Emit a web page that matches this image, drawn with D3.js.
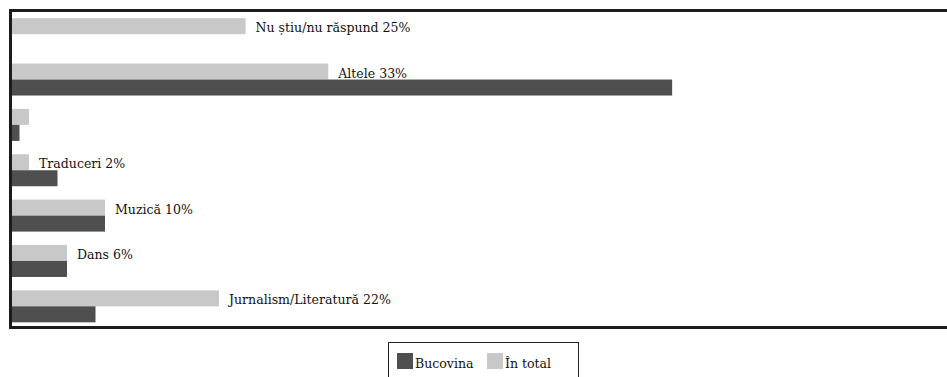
<!DOCTYPE html>
<html>
<head>
<meta charset="utf-8">
<script src="https://cdn.jsdelivr.net/npm/d3@7"></script>
<style>
  html, body { margin: 0; padding: 0; background: #fff; }
  svg { display: block; }
</style>
</head>
<body>
<svg id="chart" width="947" height="377"></svg>
<script>
// ---- data ----
const categories = ["Nu știu/nu răspund", "Altele", "", "Traduceri", "Muzică", "Dans", "Jurnalism/Literatură"];
const totalValues = [24.8, 33.5, 2, 2, 10, 6, 22];      // În total (light)
const bucovinaValues = [0, 69.7, 1, 5, 10, 6, 9];       // Bucovina (dark)
const labels = ["Nu știu/nu răspund 25%", "Altele 33%", "", "Traduceri 2%", "Muzică 10%", "Dans 6%", "Jurnalism/Literatură 22%"];
const seriesNames = ["Bucovina", "În total"];
const colors = { "Bucovina": "#4f4f4f", "În total": "#c8c8c8" };

const FONT = "DejaVu Serif, serif";
const svg = d3.select("#chart");

// fit font size so the first label is ~155px wide (as in the reference)
const probe = svg.append("text").style("font-family", FONT).style("font-size", "15px").text(labels[0]);
const w15 = probe.node().getComputedTextLength();
probe.remove();
const FS = Math.min(15.5, 15 * 155 / w15);

const x = d3.scaleLinear().domain([0, 100]).range([10, 960]);
const y = d3.scaleBand().domain(d3.range(categories.length)).range([11.5, 329]).padding(0);
const barH = 16;
const off = (y.step() - 2 * barH) / 2;
const sub = d3.scaleBand().domain(["În total", "Bucovina"]).range([off, off + 2 * barH]);

const g = svg.append("g");
const groups = g.selectAll("g.grp").data(categories.map((c, i) => i)).join("g")
  .attr("class", "grp")
  .attr("transform", i => `translate(0,${y(i)})`);

groups.append("rect")
  .attr("x", x(0))
  .attr("y", sub("În total"))
  .attr("width", i => x(totalValues[i]) - x(0))
  .attr("height", sub.bandwidth())
  .attr("fill", colors["În total"]);

groups.append("rect")
  .attr("x", x(0))
  .attr("y", sub("Bucovina"))
  .attr("width", i => x(bucovinaValues[i]) - x(0))
  .attr("height", sub.bandwidth())
  .attr("fill", colors["Bucovina"]);

groups.append("text")
  .attr("x", i => x(totalValues[i]) + 10)
  .attr("y", sub("În total") + sub.bandwidth() - 2)
  .style("font-family", FONT)
  .style("font-size", FS + "px")
  .attr("fill", "#111")
  .text(i => labels[i]);

// frame
svg.append("rect")
  .attr("x", 10.5).attr("y", 10.5)
  .attr("width", 960).attr("height", 317)
  .attr("fill", "none")
  .attr("stroke", "#1c1c1c")
  .attr("stroke-width", 3);

// legend
const lg = svg.append("g");
lg.append("rect")
  .attr("x", 388.5).attr("y", 342.5)
  .attr("width", 190).attr("height", 50)
  .attr("fill", "#fff").attr("stroke", "#222").attr("stroke-width", 1);
const legendX = [397, 487];
seriesNames.forEach((s, i) => {
  lg.append("rect").attr("x", legendX[i]).attr("y", 353).attr("width", 16).attr("height", 16).attr("fill", colors[s]);
  lg.append("text").attr("x", legendX[i] + 18).attr("y", 368)
    .style("font-family", FONT).style("font-size", FS + "px").attr("fill", "#111").text(s);
});
</script>
</body>
</html>
